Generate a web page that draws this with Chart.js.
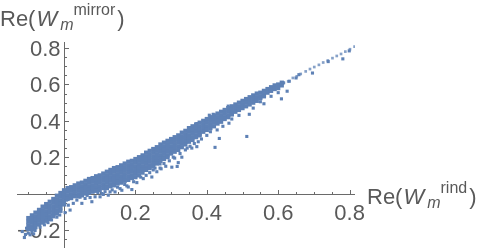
<!DOCTYPE html>
<html>
<head>
<meta charset="utf-8">
<script src="https://cdn.jsdelivr.net/npm/chart.js@4.4.1/dist/chart.umd.min.js"></script>
<style>
  html, body { margin: 0; padding: 0; background: #fff; }
</style>
</head>
<body>
<canvas id="plot" width="480" height="252"></canvas>
<script>
// dense part of the cloud, read column by column: x of the column, then the y values in it
const coreX = [-0.10, -0.09, -0.08, -0.07, -0.06, -0.05, -0.04, -0.03, -0.02, -0.01,
  0.00, 0.01, 0.02, 0.03, 0.04, 0.05, 0.06, 0.07, 0.08, 0.09,
  0.10, 0.11, 0.12, 0.13, 0.14, 0.15, 0.16, 0.17, 0.18, 0.19,
  0.20, 0.21, 0.22, 0.23, 0.24, 0.25, 0.26, 0.27, 0.28, 0.29,
  0.30, 0.31, 0.32, 0.33, 0.34, 0.35, 0.36, 0.37, 0.38, 0.39,
  0.40, 0.41, 0.42, 0.43, 0.44, 0.45, 0.46, 0.47, 0.48, 0.49,
  0.50, 0.51, 0.52, 0.53, 0.54, 0.55, 0.56, 0.57, 0.58, 0.59,
  0.60, 0.61];
const coreY = [
  [-0.135, -0.155, -0.175, -0.195],
  [-0.12, -0.14, -0.16, -0.18, -0.195],
  [-0.105, -0.125, -0.145, -0.165, -0.185],
  [-0.09, -0.11, -0.13, -0.15, -0.17],
  [-0.072, -0.092, -0.112, -0.132, -0.152, -0.16],
  [-0.058, -0.078, -0.098, -0.118, -0.138, -0.15],
  [-0.045, -0.065, -0.085, -0.105, -0.125, -0.14],
  [-0.03, -0.05, -0.07, -0.09, -0.11, -0.125],
  [-0.012, -0.032, -0.052, -0.072, -0.092, -0.11],
  [0.003, -0.017, -0.037, -0.057, -0.077, -0.095],
  [0.018, -0.002, -0.022, -0.042, -0.06],
  [0.03, 0.01, -0.01, -0.03],
  [0.035, 0.015, -0.005, -0.025],
  [0.045, 0.025, 0.005, -0.015],
  [0.055, 0.035, 0.015, -0.005, -0.015],
  [0.06, 0.04, 0.02, 0, -0.01],
  [0.07, 0.05, 0.03, 0.01, 0],
  [0.08, 0.06, 0.04, 0.02, 0.005],
  [0.085, 0.065, 0.045, 0.025, 0.01],
  [0.095, 0.075, 0.055, 0.035, 0.015],
  [0.1, 0.08, 0.06, 0.04, 0.02],
  [0.11, 0.09, 0.07, 0.05, 0.03],
  [0.12, 0.1, 0.08, 0.06, 0.04, 0.03],
  [0.13, 0.11, 0.09, 0.07, 0.05, 0.04],
  [0.14, 0.12, 0.1, 0.08, 0.06, 0.045],
  [0.145, 0.125, 0.105, 0.085, 0.065, 0.055],
  [0.155, 0.135, 0.115, 0.095, 0.075, 0.06],
  [0.165, 0.145, 0.125, 0.105, 0.085, 0.07],
  [0.175, 0.155, 0.135, 0.115, 0.095, 0.075],
  [0.18, 0.16, 0.14, 0.12, 0.1, 0.085],
  [0.19, 0.17, 0.15, 0.13, 0.11, 0.09],
  [0.2, 0.18, 0.16, 0.14, 0.12, 0.1],
  [0.21, 0.19, 0.17, 0.15, 0.13, 0.115],
  [0.225, 0.205, 0.185, 0.165, 0.145, 0.13],
  [0.235, 0.215, 0.195, 0.175, 0.155, 0.14],
  [0.245, 0.225, 0.205, 0.185, 0.165, 0.15],
  [0.255, 0.235, 0.215, 0.195, 0.175, 0.165],
  [0.27, 0.25, 0.23, 0.21, 0.19, 0.18],
  [0.28, 0.26, 0.24, 0.22, 0.2, 0.19],
  [0.29, 0.27, 0.25, 0.23, 0.21, 0.2],
  [0.3, 0.28, 0.26, 0.24, 0.22],
  [0.31, 0.29, 0.27, 0.25, 0.23],
  [0.32, 0.3, 0.28, 0.26, 0.24],
  [0.335, 0.315, 0.295, 0.275, 0.255],
  [0.345, 0.325, 0.305, 0.285, 0.27],
  [0.36, 0.34, 0.32, 0.3, 0.285],
  [0.37, 0.35, 0.33, 0.31, 0.295],
  [0.38, 0.36, 0.34, 0.32, 0.31],
  [0.39, 0.37, 0.35, 0.33, 0.32],
  [0.4, 0.38, 0.36, 0.34],
  [0.41, 0.39, 0.37, 0.35],
  [0.42, 0.4, 0.38, 0.36],
  [0.43, 0.41, 0.39, 0.37],
  [0.44, 0.42, 0.4, 0.385],
  [0.45, 0.43, 0.41, 0.395],
  [0.46, 0.44, 0.42, 0.41],
  [0.47, 0.45, 0.43, 0.42],
  [0.48, 0.46, 0.44, 0.435],
  [0.49, 0.47, 0.45],
  [0.5, 0.48, 0.46],
  [0.51, 0.49, 0.47],
  [0.52, 0.5, 0.48],
  [0.53, 0.51, 0.49],
  [0.54, 0.52, 0.5],
  [0.55, 0.53, 0.51],
  [0.555, 0.535, 0.525],
  [0.565, 0.545, 0.535],
  [0.575, 0.555],
  [0.585, 0.565],
  [0.595, 0.575],
  [0.6, 0.58],
  [0.61, 0.595]
];

// loose points around the band
const strayX = [-0.111, -0.095, -0.105, -0.09, -0.081, -0.067, -0.117, -0.1, -0.108, -0.085,
  -0.055, -0.045, -0.035, -0.02, -0.012,
  0.007, 0.012, 0.003, 0.017, 0.026, 0.036, 0.05, 0.059, 0.073, 0.087,
  0.078, 0.106, 0.124, 0.143, 0.162, 0.18, 0.19, 0.101, 0.11, 0.129,
  0.157, 0.176, 0.204, 0.222, 0.246, 0.23, 0.26, 0.272, 0.285, 0.302,
  0.317, 0.32, 0.33, 0.306, 0.269, 0.269, 0.353, 0.358, 0.372, 0.376,
  0.34, 0.25, 0.045, 0.065, 0.095, 0.115, 0.135, 0.15, 0.17, 0.195,
  0.215, 0.24, 0.255, 0.28, 0.295, 0.31, 0.325, 0.345, 0.365, 0.385,
  0.4, 0.41, 0.423, 0.435, 0.429, 0.462, 0.445, 0.47, 0.49, 0.512,
  0.519, 0.53, 0.56, 0.55, 0.58, 0.6, 0.609, 0.625, 0.696, 0.74,
  0.781, 0.799, 0.407, 0.418, 0.46, 0.372, 0.614, 0.631, 0.65, 0.658];
const strayY = [-0.242, -0.227, -0.191, -0.21, -0.203, -0.185, -0.209, -0.218, -0.225, -0.222,
  -0.172, -0.16, -0.145, -0.13, -0.118,
  -0.036, -0.064, -0.105, -0.091, -0.054, -0.036, -0.054, -0.027, -0.022, -0.018,
  -0.045, 0, -0.009, 0.009, 0.018, 0.036, 0.022, -0.018, -0.005, 0.009,
  0.027, 0.042, 0.06, 0.082, 0.091, 0.1, 0.12, 0.136, 0.15, 0.145,
  0.149, 0.17, 0.2, 0.2, 0.163, 0.14, 0.26, 0.25, 0.258, 0.285,
  0.24, 0.13, -0.02, -0.01, 0.005, 0.01, 0.02, 0.035, 0.05, 0.065,
  0.09, 0.115, 0.14, 0.165, 0.18, 0.195, 0.22, 0.25, 0.275, 0.3,
  0.32, 0.34, 0.254, 0.303, 0.35, 0.387, 0.37, 0.41, 0.43, 0.314,
  0.436, 0.47, 0.494, 0.505, 0.535, 0.555, 0.521, 0.563, 0.663, 0.726,
  0.741, 0.785, 0.431, 0.436, 0.481, 0.385, 0.609, 0.618, 0.636, 0.654];

// thin dotted run at the top end
const tailX = [0.616, 0.628, 0.641, 0.652, 0.663, 0.677, 0.689, 0.701, 0.714, 0.726,
  0.739, 0.752, 0.764, 0.776, 0.788, 0.801, 0.814];
const tailY = [0.609, 0.617, 0.636, 0.645, 0.658, 0.672, 0.685, 0.696, 0.708, 0.721,
  0.732, 0.745, 0.757, 0.768, 0.781, 0.794, 0.808];

const xTicks = [0.2, 0.4, 0.6, 0.8];
const xTickLabels = ['0.2', '0.4', '0.6', '0.8'];
const yTicks = [-0.2, 0.2, 0.4, 0.6, 0.8];
const yTickLabels = ['\u22120.2', '0.2', '0.4', '0.6', '0.8'];
const minorStep = 0.05;

const blue = '#5e81b5';
const axisGray = '#6a6a6a';
const textGray = '#595959';
const fontFam = '"Liberation Sans", Arial, sans-serif';

const corePts = [];
coreX.forEach((x, i) => coreY[i].forEach(y => corePts.push({ x: x, y: y })));
const pairUp = (xs, ys) => xs.map((x, i) => ({ x: x, y: ys[i] }));

// label like Re(W_m^sup) drawn piece by piece
function axisLabel(ctx, left, base, sup) {
  let cx = left;
  const part = (t, font, dy, dx) => {
    ctx.font = font;
    ctx.fillText(t, cx + dx, base + dy);
    cx += dx + ctx.measureText(t).width;
  };
  part('Re(', '22px ' + fontFam, 0, 0);
  part('W', 'italic 22px ' + fontFam, 0, 1);
  part('m', 'italic 16px ' + fontFam, 4, 3);
  part(sup, '16px ' + fontFam, -11, 0);
  part(')', '22px ' + fontFam, 0, 2);
}

// Mathematica-like axes through the origin, ticks pointing inward
const originAxes = {
  id: 'originAxes',
  beforeDatasetsDraw(chart) {
    const { ctx, chartArea: a } = chart;
    const xs = chart.scales.x, ys = chart.scales.y;
    const x0 = Math.round(xs.getPixelForValue(0)) + 0.5;
    const y0 = Math.round(ys.getPixelForValue(0)) + 0.5;
    ctx.save();
    ctx.strokeStyle = axisGray;
    ctx.lineWidth = 1;
    ctx.beginPath();
    ctx.moveTo(a.left, y0); ctx.lineTo(a.right, y0);
    ctx.moveTo(x0, a.top); ctx.lineTo(x0, a.bottom);
    for (let k = Math.ceil(xs.min / minorStep); k * minorStep <= xs.max; k++) {
      if (k === 0) continue;
      const px = Math.round(xs.getPixelForValue(k * minorStep)) + 0.5;
      ctx.moveTo(px, y0); ctx.lineTo(px, y0 - (k % 4 === 0 ? 4.5 : 2.5));
    }
    for (let k = Math.ceil(ys.min / minorStep); k * minorStep <= ys.max; k++) {
      if (k === 0) continue;
      const py = Math.round(ys.getPixelForValue(k * minorStep)) + 0.5;
      ctx.moveTo(x0, py); ctx.lineTo(x0 + (k % 4 === 0 ? 4.5 : 2.5), py);
    }
    ctx.stroke();

    ctx.fillStyle = textGray;
    ctx.font = '22px ' + fontFam;
    ctx.textBaseline = 'alphabetic';
    ctx.textAlign = 'center';
    xTicks.forEach((v, i) => ctx.fillText(xTickLabels[i], xs.getPixelForValue(v), y0 + 25));
    ctx.textAlign = 'right';
    yTicks.forEach((v, i) => ctx.fillText(yTickLabels[i], x0 - 4, ys.getPixelForValue(v) + 8));

    ctx.textAlign = 'left';
    axisLabel(ctx, a.right + 12, y0 + 9, 'rind');
    axisLabel(ctx, 0, 26, 'mirror');
    ctx.restore();
  }
};

new Chart(document.getElementById('plot'), {
  type: 'scatter',
  data: {
    datasets: [
      { data: corePts, pointStyle: 'rect', pointRadius: 3, backgroundColor: blue, borderWidth: 0 },
      { data: pairUp(strayX, strayY), pointStyle: 'rect', pointRadius: 2.2, backgroundColor: blue, borderWidth: 0 },
      { data: pairUp(tailX, tailY), pointStyle: 'rect', pointRadius: 1.9, backgroundColor: 'rgba(94,129,181,0.75)', borderWidth: 0 }
    ]
  },
  options: {
    responsive: false,
    animation: false,
    devicePixelRatio: 1,
    layout: { padding: { left: 17, right: 125, top: 42, bottom: 2 } },
    plugins: { legend: { display: false }, tooltip: { enabled: false } },
    scales: {
      x: { type: 'linear', min: -0.1317, max: 0.8151, display: false },
      y: { type: 'linear', min: -0.2997, max: 0.8338, display: false }
    }
  },
  plugins: [originAxes]
});
</script>
</body>
</html>
